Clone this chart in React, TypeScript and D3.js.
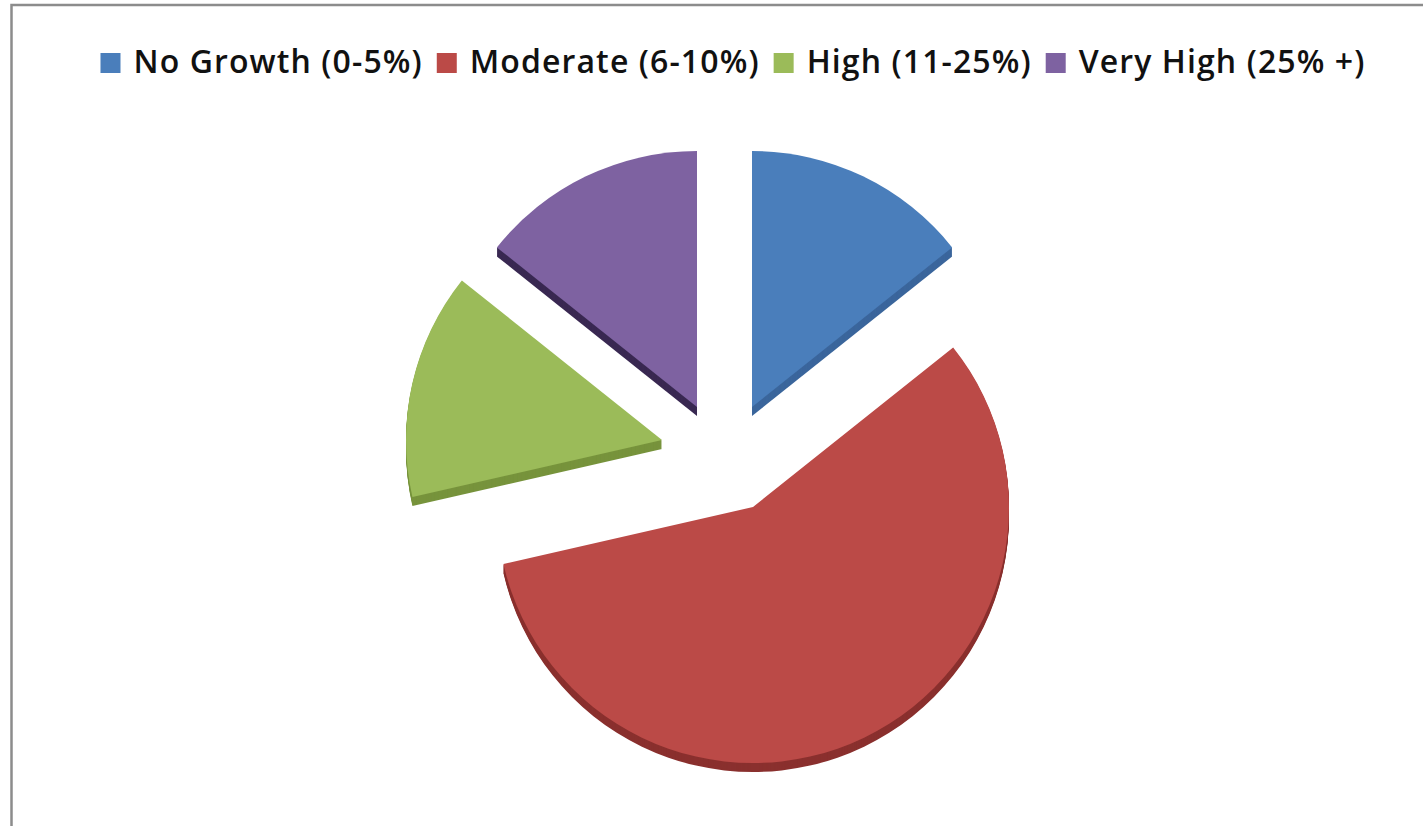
import React, { useEffect, useRef } from "react";
import * as d3 from "d3";

// Growth bands shown in the legend, in pie order (clockwise from 12 o'clock)
const categories = [
  "No Growth (0-5%)",
  "Moderate (6-10%)",
  "High (11-25%)",
  "Very High (25% +)",
];

// Number of responses in each band
const values = [1, 4, 1, 1];

// Top-face and side colours of each slice
const topColors = ["#4a7ebb", "#bb4a47", "#9bbb59", "#7e62a1"];
const sideColors = ["#3b669c", "#8a302e", "#77933c", "#3a2952"];

// How far each slice is pulled out from the pie centre, in pixels
const explodeOffsets: [number, number][] = [
  [28, -51],
  [29, 49],
  [-62, -18],
  [-27, -51],
];

const WIDTH = 1423;
const HEIGHT = 826;
const CENTER: [number, number] = [724, 458];
const RADIUS = 256;
const DEPTH = 9;

export default function App() {
  const ref = useRef<SVGSVGElement | null>(null);

  useEffect(() => {
    const svg = d3.select(ref.current);
    svg.selectAll("*").remove();

    svg
      .append("rect")
      .attr("x", 0)
      .attr("y", 0)
      .attr("width", WIDTH)
      .attr("height", HEIGHT)
      .attr("fill", "#ffffff");

    // chart frame (runs off the right and bottom edges)
    svg
      .append("rect")
      .attr("x", 11.5)
      .attr("y", 5)
      .attr("width", WIDTH + 20)
      .attr("height", HEIGHT + 20)
      .attr("fill", "none")
      .attr("stroke", "#8c8c8c")
      .attr("stroke-width", 2.5);

    // ----- legend -----
    const legend = svg.append("g").attr("class", "legend");
    const fontSize = 32;
    const square = 20;
    const gapSquareText = 13;
    const gapItems = 14;
    const items = categories.map((c, i) => {
      const g = legend.append("g");
      g.append("rect")
        .attr("width", square)
        .attr("height", square)
        .attr("y", 53)
        .attr("fill", topColors[i]);
      const t = g
        .append("text")
        .attr("x", square + gapSquareText)
        .attr("y", 73)
        .attr("font-family", "'Open Sans', sans-serif")
        .attr("font-weight", 600)
        .attr("font-size", fontSize)
        .attr("letter-spacing", 1.1)
        .attr("fill", "#111")
        .text(c);
      const w = (t.node() as SVGTextElement).getComputedTextLength();
      return { g, w: square + gapSquareText + w };
    });
    const total =
      d3.sum(items, (d) => d.w) + gapItems * (items.length - 1);
    let x = 733 - total / 2;
    items.forEach((it) => {
      it.g.attr("transform", `translate(${x},0)`);
      x += it.w + gapItems;
    });

    // ----- pie -----
    const pie = d3
      .pie<number>()
      .sort(null)
      .value((d) => d)
      .startAngle(0)
      .endAngle(2 * Math.PI);
    const arcs = pie(values);
    const arc = d3
      .arc<d3.PieArcDatum<number>>()
      .innerRadius(0)
      .outerRadius(RADIUS);

    const pieG = svg
      .append("g")
      .attr("transform", `translate(${CENTER[0]},${CENTER[1]})`);

    const slices = pieG
      .selectAll("g.slice")
      .data(arcs)
      .join("g")
      .attr("class", "slice")
      .attr(
        "transform",
        (_d, i) => `translate(${explodeOffsets[i][0]},${explodeOffsets[i][1]})`
      );

    // extruded side: stacked copies of the slice shifted downward
    slices.each(function (d, i) {
      const g = d3.select(this);
      for (let k = DEPTH; k >= 1; k--) {
        g.append("path")
          .attr("d", arc(d) as string)
          .attr("transform", `translate(0,${k})`)
          .attr("fill", sideColors[i]);
      }
      g.append("path").attr("d", arc(d) as string).attr("fill", topColors[i]);
    });
  }, []);

  return (
    <svg
      ref={ref}
      width={WIDTH}
      height={HEIGHT}
      style={{ position: "absolute", left: 0, top: 0, display: "block" }}
    />
  );
}
